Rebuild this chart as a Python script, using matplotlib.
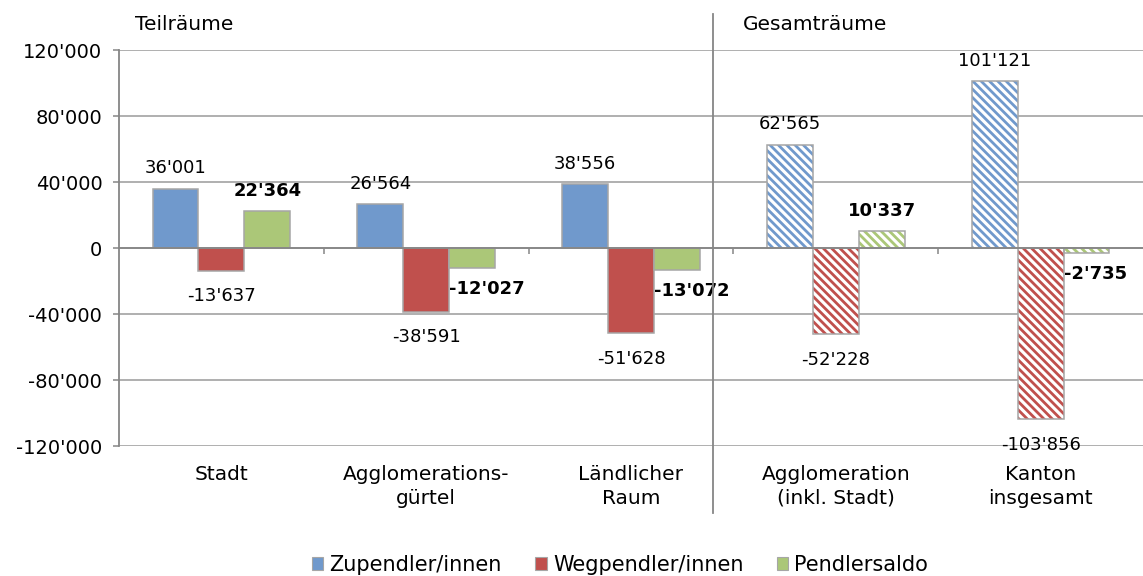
import matplotlib.pyplot as plt
import numpy as np
from matplotlib.patches import Patch
from matplotlib.lines import Line2D
from matplotlib.ticker import FuncFormatter
from matplotlib.transforms import blended_transform_factory

categories = ['Stadt', 'Agglomerations-\ngürtel', 'Ländlicher\nRaum',
              'Agglomeration\n(inkl. Stadt)', 'Kanton\ninsgesamt']
zupendler = [36001, 26564, 38556, 62565, 101121]
wegpendler = [-13637, -38591, -51628, -52228, -103856]
saldo = [22364, -12027, -13072, 10337, -2735]
hatched = [False, False, False, True, True]
series_names = ['Zupendler/innen', 'Wegpendler/innen', 'Pendlersaldo']
yticks = [-120000, -80000, -40000, 0, 40000, 80000, 120000]

colors = ['#7099CC', '#C0504D', '#ABC778']
edge = '#A6A6A6'
grid_c = '#9A9A9A'

plt.rcParams['font.family'] = 'DejaVu Sans'
plt.rcParams['hatch.linewidth'] = 2.0


def fmt(v):
    return f"{int(v):,}".replace(',', "'")


fig = plt.figure(figsize=(11.43, 5.76), dpi=100)
ax = fig.add_axes([119/1143, 1-446/576, 1-119/1143, (446-50)/576])

x = np.arange(len(categories))
w = 0.224
series = [zupendler, wegpendler, saldo]
offsets = [-w, 0, w]

for s, vals in enumerate(series):
    for i, v in enumerate(vals):
        xi = x[i] + offsets[s]
        if hatched[i]:
            ax.bar(xi, v, w, color='white', edgecolor=colors[s], hatch='\\\\\\\\',
                   linewidth=0, zorder=3)
            ax.bar(xi, v, w, fill=False, edgecolor=edge, linewidth=1.1, zorder=4)
        else:
            ax.bar(xi, v, w, color=colors[s], edgecolor=edge, linewidth=1.1, zorder=3)

        bold = s == 2
        fw = 'bold' if bold else 'normal'
        if v >= 0:
            ax.annotate(fmt(v), (xi, v), xytext=(0, 11), textcoords='offset points',
                        ha='center', va='baseline', fontsize=13, fontweight=fw)
        elif bold:
            ax.annotate(fmt(v), (xi - w/2, v), xytext=(0, -9), textcoords='offset points',
                        ha='left', va='top', fontsize=13, fontweight=fw)
        else:
            ax.annotate(fmt(v), (xi, v), xytext=(0, -12), textcoords='offset points',
                        ha='center', va='top', fontsize=13, fontweight=fw)

ax.set_xlim(-0.5, len(categories) - 0.5)
ax.set_ylim(-120000, 120000)
ax.set_yticks(yticks)
ax.yaxis.set_major_formatter(FuncFormatter(lambda v, p: fmt(v)))
ax.tick_params(axis='y', labelsize=14, length=4, width=1.1, color='#868686', pad=8)
ax.yaxis.grid(True, color=grid_c, linewidth=1.1, zorder=0)
ax.set_axisbelow(True)

ax.spines['bottom'].set_position(('data', 0))
ax.spines['bottom'].set_color('#868686')
ax.spines['bottom'].set_linewidth(1.3)
ax.spines['bottom'].set_zorder(5)
ax.spines['left'].set_color('#868686')
ax.spines['left'].set_linewidth(1.3)
ax.spines['top'].set_visible(False)
ax.spines['right'].set_visible(False)
ax.set_xticks(x[:-1] + 0.5)
ax.set_xticklabels([])
ax.tick_params(axis='x', length=4, width=1.1, color='#868686')

# category labels below plot
tr = blended_transform_factory(ax.transData, fig.transFigure)
for i, c in enumerate(categories):
    ax.text(x[i], 1-465/576, c, transform=tr, ha='center', va='top',
            fontsize=14.5, linespacing=1.3)

# separator between Teilräume and Gesamträume
sep = 2.5 - 20/204.8
fig.add_artist(Line2D([sep, sep], [1-14/576, 1-513/576], transform=tr,
                      color='#868686', linewidth=1.3))
fig.text(135/1143, 1-25/576, 'Teilräume', fontsize=14.5, va='center', ha='left')
fig.text(743/1143, 1-25/576, 'Gesamträume', fontsize=14.5, va='center', ha='left')

handles = [Patch(facecolor=c, edgecolor=edge, linewidth=0.8) for c in colors]
fig.legend(handles, series_names, loc='center', bbox_to_anchor=(620/1143, 1-565/576),
           ncol=3, frameon=False, fontsize=15, handlelength=0.55, handleheight=0.55,
           handletextpad=0.3, columnspacing=1.6)

fig.savefig('out.png', dpi=100)
